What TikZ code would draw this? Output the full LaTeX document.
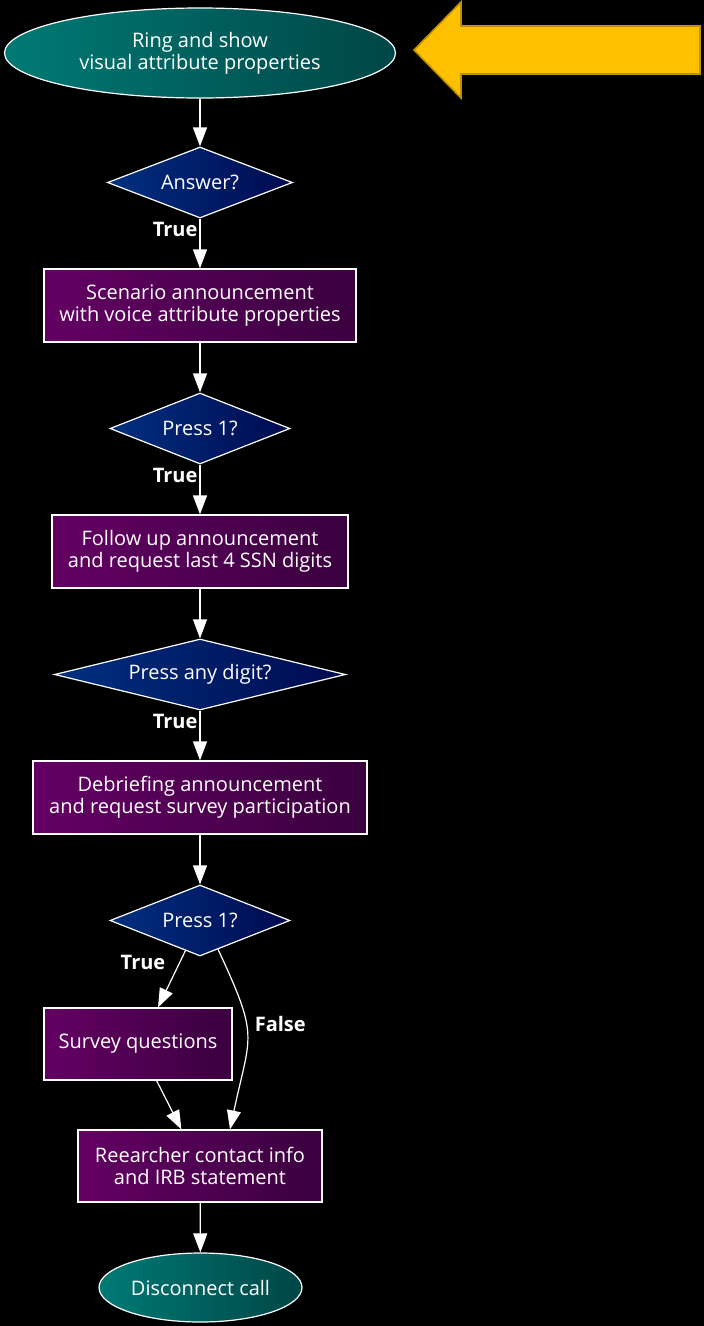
\documentclass[tikz,border=0pt]{standalone}
\usepackage{fontspec}
\setmainfont{Open Sans}
\usepackage{tikz}
\usetikzlibrary{shapes}
\usetikzlibrary{arrows.meta}
\definecolor{tealleft}{HTML}{007A74}
\definecolor{tealright}{HTML}{004646}
\definecolor{navyleft}{HTML}{003080}
\definecolor{navyright}{HTML}{000A50}
\definecolor{plumleft}{HTML}{640064}
\definecolor{plumright}{HTML}{3A003E}
\definecolor{gold}{HTML}{FFC000}
\definecolor{goldline}{HTML}{BF9000}
\tikzstyle{block} = [draw=white, line width=1.2pt, text=white, align=center,
inner sep=0pt, font=\fontsize{20}{22}\selectfont]
\tikzstyle{terminal} = [block, ellipse, left color=tealleft, right color=tealright]
\tikzstyle{decision} = [block, diamond, aspect=4, left color=navyleft,
right color=navyright, minimum height=71pt]
\tikzstyle{process} = [block, rectangle, left color=plumleft,
right color=plumright, minimum height=73pt]
\tikzstyle{flow} = [draw=white, line width=1.2pt,
-{Triangle[width=14pt,length=19pt]}]
\tikzstyle{branch} = [text=white, inner sep=2pt,
font=\fontsize{20}{22}\selectfont\bfseries]
\newcommand{\flowedge}[3][]{ %
  % Connect node #2 to all nodes #3.
  \foreach \y in {#3} { %
    \path (#2) edge[flow, #1] (\y) ; %
  } ;
}

\begin{document}
\begin{tikzpicture}[x=1pt,y=1pt]

	\fill[black] (0,0) rectangle (704,-1326);
	\useasboundingbox (0,0) rectangle (704,-1326);

	% start marker
	\draw[fill=gold, draw=goldline, line width=1.6pt, line join=miter]
	  (414,-50) -- (461,-2) -- (461,-26) -- (700,-26) -- (700,-74)
	  -- (461,-74) -- (461,-98) -- cycle;

	\node[terminal, minimum width=391pt, minimum height=90pt] (ring)
	  at (200,-53) {Ring and show\\visual attribute properties};
	\node[decision, minimum width=185pt] (answer)
	  at (200,-182.5) {Answer?};
	\node[process, minimum width=312pt] (scenario)
	  at (200,-305.5) {Scenario announcement\\with voice attribute properties};
	\node[decision, minimum width=180pt] (pressone)
	  at (200,-428.5) {Press 1?};
	\node[process, minimum width=296pt] (followup)
	  at (200,-551.5) {Follow up announcement\\and request last 4 SSN digits};
	\node[decision, minimum width=291pt] (pressany)
	  at (200,-674.5) {Press any digit?};
	\node[process, minimum width=334pt] (debrief)
	  at (200,-797.5) {Debriefing announcement\\and request survey participation};
	\node[decision, minimum width=180pt] (pressagain)
	  at (200,-920.5) {Press 1?};
	\node[process, minimum width=188pt, minimum height=72pt] (questions)
	  at (138,-1044) {Survey questions};
	\node[process, minimum width=244pt, minimum height=72pt] (contact)
	  at (200,-1166) {Reearcher contact info\\and IRB statement};
	\node[terminal, minimum width=203pt, minimum height=69pt] (disconnect)
	  at (200.5,-1287.5) {Disconnect call};

	\flowedge {ring} {answer};
	\path (answer) edge[flow] node[branch, pos=0.22, left] {True} (scenario);
	\flowedge {scenario} {pressone};
	\path (pressone) edge[flow] node[branch, pos=0.22, left] {True} (followup);
	\flowedge {followup} {pressany};
	\path (pressany) edge[flow] node[branch, pos=0.22, left] {True} (debrief);
	\flowedge {debrief} {pressagain};
	\path (pressagain) edge[flow] node[branch, pos=0.2, left=12pt] {True}
	  ([xshift=20pt]questions.north);
	\path (pressagain.-58) edge[flow, out=-65, in=78, looseness=1.4]
	  node[branch, pos=0.4, right=6pt] {False} ([xshift=30pt]contact.north);
	\flowedge {questions} {contact};
	\flowedge {contact} {disconnect};

\end{tikzpicture}
\end{document}
